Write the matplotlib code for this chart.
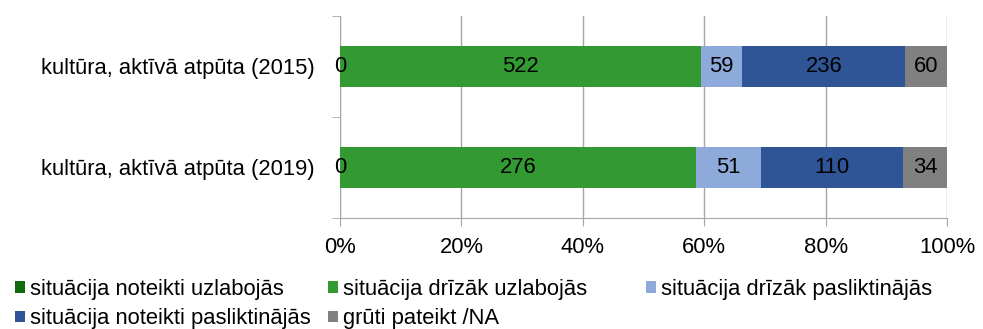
import matplotlib
matplotlib.use("Agg")
import matplotlib.pyplot as plt
from matplotlib.patches import Patch
import numpy as np

plt.rcParams['font.family'] = ['Liberation Sans', 'DejaVu Sans']

categories = ["kultūra, aktīvā atpūta (2015)", "kultūra, aktīvā atpūta (2019)"]
series_names = [
    "situācija noteikti uzlabojās",
    "situācija drīzāk uzlabojās",
    "situācija drīzāk pasliktinājās",
    "situācija noteikti pasliktinājās",
    "grūti pateikt /NA",
]
noteikti_uzlabojas = [0, 0]
drizak_uzlabojas = [522, 276]
drizak_pasliktinajas = [59, 51]
noteikti_pasliktinajas = [236, 110]
gruti_pateikt = [60, 34]
colors = ["#0e6b0e", "#339933", "#8eaadb", "#2f5597", "#808080"]
xtick_labels = ["0%", "20%", "40%", "60%", "80%", "100%"]

series = [noteikti_uzlabojas, drizak_uzlabojas, drizak_pasliktinajas,
          noteikti_pasliktinajas, gruti_pateikt]
counts = np.array(series, dtype=float)
totals = counts.sum(axis=0)
shares = counts / totals * 100

W, H = 983, 329
fig = plt.figure(figsize=(W / 100, H / 100), dpi=100)
ax = fig.add_axes([0.3459, 0.3374, 0.6175, 0.614])

y = np.arange(len(categories))
left = np.zeros(len(categories))
fs = 15.8
for name, vals, share, col in zip(series_names, series, shares, colors):
    ax.barh(y, share, left=left, height=0.41, color=col, zorder=3)
    for i in range(len(categories)):
        cx = left[i] + share[i] / 2
        ax.text(cx, y[i], str(vals[i]), ha="center", va="center",
                fontsize=fs, color="black", zorder=4)
    left = left + share

ax.set_xlim(0, 100)
ax.set_ylim(1.5, -0.5)
ax.set_xticks(np.arange(0, 101, 20))
ax.set_xticklabels(xtick_labels, fontsize=fs)
ax.set_yticks(y)
ax.set_yticklabels(categories, fontsize=fs)
ax.set_yticks([-0.5, 0.5, 1.5], minor=True)
ax.tick_params(axis="y", which="major", length=0, pad=18)
ax.tick_params(axis="y", which="minor", length=6, color="#a6a6a6")
ax.tick_params(axis="x", length=6, color="#a6a6a6", pad=8)
ax.grid(axis="x", color="#a6a6a6", linewidth=1, zorder=0)
for s in ["top", "right"]:
    ax.spines[s].set_visible(False)
for s in ["left", "bottom"]:
    ax.spines[s].set_color("#a6a6a6")

# legend laid out in three equal-width columns
handles = [Patch(facecolor=c, edgecolor="none") for c in colors]
columns = [[0, 3], [1, 4], [2]]
col_x = [15, 328, 646]
for idx, xpix in zip(columns, col_x):
    fig.legend([handles[i] for i in idx], [series_names[i] for i in idx],
               loc="upper left", bbox_to_anchor=(xpix / W, 1 - 279 / H),
               frameon=False, fontsize=fs, handlelength=0.45,
               handleheight=0.45, handletextpad=0.22, labelspacing=0.38,
               borderpad=0, borderaxespad=0)

fig.savefig("out.png", dpi=100)
